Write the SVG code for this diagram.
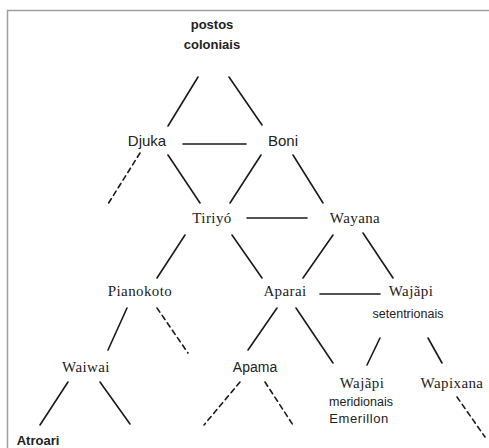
<svg xmlns="http://www.w3.org/2000/svg" width="489" height="448" viewBox="0 0 489 448">
<style>
  .ln { stroke: #1a1a1a; stroke-width: 1.6; fill: none; stroke-linecap: round; }
  .ds { stroke-dasharray: 5 4; }
  .serif { font-family: "Liberation Serif", "DejaVu Serif", serif; font-size: 15px; fill: #222; letter-spacing: 0.4px; text-anchor: middle; }
  .sans { font-family: "Liberation Sans", "DejaVu Sans", sans-serif; font-size: 14px; fill: #222; text-anchor: middle; }
  .bold { font-family: "Liberation Sans", "DejaVu Sans", sans-serif; font-size: 13px; font-weight: bold; fill: #222; text-anchor: middle; }
</style>
<rect width="489" height="448" fill="#ffffff"/>
<path d="M7.5 448 V10.5 H489" stroke="#a0a0a0" stroke-width="1.5" fill="none"/>

<g id="connectors">
  <line class="ln" x1="198" y1="77" x2="168" y2="126"/>
  <line class="ln" x1="229" y1="77" x2="262" y2="125"/>
  <line class="ln" x1="183" y1="144" x2="246" y2="144"/>
  <line class="ln ds" x1="140" y1="153" x2="108" y2="204"/>
  <line class="ln" x1="168" y1="155" x2="200" y2="203"/>
  <line class="ln" x1="261" y1="155" x2="230" y2="203"/>
  <line class="ln" x1="293" y1="155" x2="323" y2="203"/>
  <line class="ln" x1="247" y1="218" x2="307" y2="218"/>
  <line class="ln" x1="185" y1="235" x2="157" y2="278"/>
  <line class="ln" x1="232" y1="235" x2="262" y2="278"/>
  <line class="ln" x1="333" y1="235" x2="303" y2="278"/>
  <line class="ln" x1="363" y1="233" x2="393" y2="278"/>
  <line class="ln" x1="320" y1="294" x2="380" y2="294"/>
  <line class="ln" x1="127" y1="308" x2="108" y2="350"/>
  <line class="ln ds" x1="157" y1="308" x2="188" y2="353"/>
  <line class="ln" x1="277" y1="308" x2="248" y2="350"/>
  <line class="ln" x1="296" y1="308" x2="333" y2="363"/>
  <line class="ln" x1="380" y1="338" x2="367" y2="365"/>
  <line class="ln" x1="428" y1="338" x2="442" y2="363"/>
  <line class="ln" x1="68" y1="382" x2="40" y2="425"/>
  <line class="ln" x1="100" y1="382" x2="130" y2="424"/>
  <line class="ln ds" x1="240" y1="382" x2="204" y2="425"/>
  <line class="ln ds" x1="265" y1="382" x2="293" y2="425"/>
  <line class="ln ds" x1="457" y1="397" x2="485" y2="437"/>
</g>

<g id="postos"><text class="bold" x="212" y="29">postos</text><text class="bold" x="212" y="49">coloniais</text></g>
<g id="djuka"><text class="sans" x="147" y="146" style="font-size:15px">Djuka</text></g>
<g id="boni"><text class="sans" x="283" y="146" style="font-size:15px">Boni</text></g>
<g id="tiriyo"><text class="serif" x="212" y="223">Tiriyó</text></g>
<g id="wayana"><text class="serif" x="355" y="223">Wayana</text></g>
<g id="pianokoto"><text class="serif" x="140" y="296">Pianokoto</text></g>
<g id="aparai"><text class="serif" x="285" y="296">Aparai</text></g>
<g id="wajapi-set"><text class="serif" x="411" y="296">Wajãpi</text><text class="sans" x="408" y="318" style="font-size:12.5px">setentrionais</text></g>
<g id="waiwai"><text class="serif" x="86" y="372">Waiwai</text></g>
<g id="apama"><text class="sans" x="255" y="372">Apama</text></g>
<g id="wajapi-mer"><text class="serif" x="362" y="388">Wajãpi</text><text class="sans" x="361" y="406" style="font-size:12.5px">meridionais</text><text class="sans" x="359" y="423" style="font-size:13px;letter-spacing:0.6px">Emerillon</text></g>
<g id="wapixana"><text class="serif" x="452" y="388">Wapixana</text></g>
<g id="atroari"><text class="bold" x="38" y="445">Atroari</text></g>
</svg>
